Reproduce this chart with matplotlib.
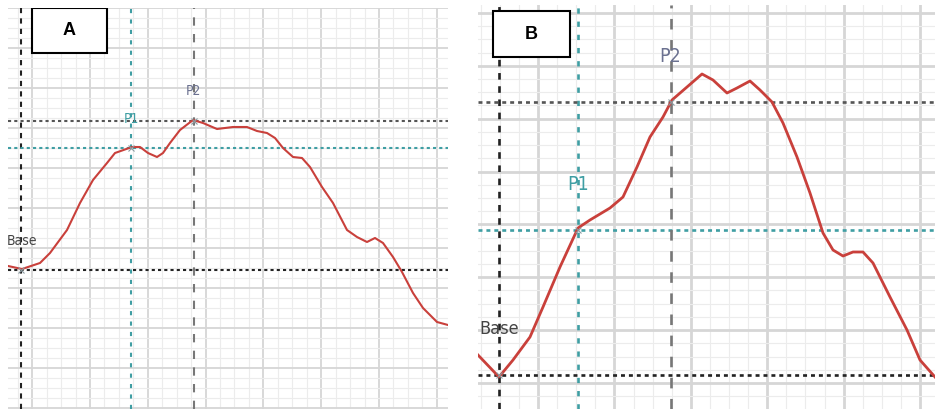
import numpy as np
import matplotlib
matplotlib.use("Agg")
import matplotlib.pyplot as plt
from matplotlib.patches import Rectangle

# ---- panel A: pulse wave (sample index, amplitude) ----
t_a = [0, 14, 32, 42, 59, 72, 85, 99, 107, 124, 132, 140, 149, 155, 162, 172,
       185, 195, 209, 225, 239, 249, 259, 267, 275, 285, 294, 302, 314, 325,
       339, 349, 359, 367, 375, 385, 394, 405, 415, 429, 440]
amp_a = [142, 139, 145, 155, 178, 205, 228, 245, 255, 261, 261, 255, 251, 255,
         265, 278, 288, 285, 279, 281, 281, 277, 275, 270, 260, 251, 250, 241,
         221, 205, 178, 171, 166, 170, 165, 151, 136, 115, 100, 86, 83]
marks_a = {"Base": (13, 138), "P1": (123, 260), "P2": (186, 287)}

# ---- panel B ----
t_b = [0, 21, 35, 52, 65, 82, 100, 112, 132, 145, 159, 172, 185, 194, 209,
       224, 235, 249, 259, 272, 282, 294, 305, 319, 332, 345, 355, 365, 375,
       385, 395, 412, 429, 442, 457]
amp_b = [54, 32, 49, 72, 102, 142, 181, 189, 201, 212, 242, 272, 292, 309, 322,
         335, 329, 316, 321, 328, 319, 307, 286, 252, 216, 176, 159, 153, 157,
         157, 146, 112, 79, 49, 32]
marks_b = {"Base": (21, 34), "P1": (100, 179), "P2": (193, 307)}

W, H = 935, 409
fig = plt.figure(figsize=(W / 100, H / 100), dpi=100)
fig.patch.set_facecolor("white")

RED = "#c9403b"
TEAL = "#3f9ea3"
styles = {
    "Base": dict(v=("#222222", (0, (2.5, 2.5))), h=("#222222", (0, (1.5, 1.5)))),
    "P1": dict(v=(TEAL, (0, (2, 3))), h=(TEAL, (0, (1.5, 1.5)))),
    "P2": dict(v=("#777777", (0, (4, 4))), h=("#555555", (0, (1.5, 1.5)))),
}


def setup(ax, xlim, ylim, xmaj, xmin_, ymaj, ymin_, majlw):
    ax.set_xticks(xmaj)
    ax.set_xticks(xmin_, minor=True)
    ax.set_yticks(ymaj)
    ax.set_yticks(ymin_, minor=True)
    # limits after the ticks, set_xticks would widen them otherwise
    ax.set_xlim(*xlim)
    ax.set_ylim(*ylim)
    ax.grid(which="major", color="#d6d6d6", lw=majlw)
    ax.grid(which="minor", color="#ececec", lw=0.8)
    ax.set_axisbelow(True)
    ax.tick_params(which="both", length=0, labelbottom=False, labelleft=False)
    for s in ax.spines.values():
        s.set_visible(False)


def refs(ax, marks, lw):
    for name, (x, y) in marks.items():
        cv, lsv = styles[name]["v"]
        ch, lsh = styles[name]["h"]
        ax.axvline(x, color=cv, ls=lsv, lw=lw, zorder=2)
        ax.axhline(y, color=ch, ls=lsh, lw=lw, zorder=2)
        ax.plot(x, y, marker="x", ms=4, color="#8a9aa0", mew=0.8, zorder=4)


def label_box(ax, text, x0, y0, w, h):
    ax.add_patch(Rectangle((x0, y0), w, h, transform=ax.transAxes,
                           facecolor="white", edgecolor="black", lw=1.5, zorder=5))
    ax.text(x0 + w / 2, y0 + h / 2, text, transform=ax.transAxes, ha="center",
            va="center", fontsize=13, fontweight="bold",
            family=["Liberation Sans", "DejaVu Sans"], zorder=6)


def tag(ax, x, y, s, color, size):
    ax.text(x, y, s, color=color, fontsize=size, ha="center", va="center",
            family=["DejaVu Sans"], fontstretch="condensed", zorder=4)


# panel A
ax1 = fig.add_axes([8 / W, 0, 440 / W, 401 / H])
setup(ax1, (0, 440), (-1, 400),
      np.arange(24.2, 440, 57.8), np.arange(24.2 - 57.8, 440, 14.45),
      np.arange(0, 401, 40), np.arange(0, 401, 10), 1.3)
refs(ax1, marks_a, 1.5)
ax1.plot(t_a, amp_a, color=RED, lw=1.5, zorder=3)
tag(ax1, 14, 167, "Base", "#444444", 10)
tag(ax1, 123, 289, "P1", TEAL, 10)
tag(ax1, 185, 317, "P2", "#6b7190", 10)
label_box(ax1, "A", 0.0545, 0.888, 0.170, 0.112)

# panel B
ax2 = fig.add_axes([478 / W, 0, 457 / W, 404 / H])
setup(ax2, (0, 457), (0, 404),
      np.arange(60, 457, 76.4), np.arange(60 - 76.4, 457, 19.1),
      np.arange(26 - 52.86, 404, 52.86), np.arange(26 - 52.86, 404, 13.215), 2.0)
refs(ax2, marks_b, 1.9)
ax2.plot(t_b, amp_b, color=RED, lw=2.0, zorder=3)
tag(ax2, 21, 80, "Base", "#444444", 13)
tag(ax2, 100, 225, "P1", TEAL, 14)
tag(ax2, 192, 353, "P2", "#6b7190", 14)
label_box(ax2, "B", 0.033, 0.871, 0.168, 0.114)

fig.savefig("out.png", dpi=100)
